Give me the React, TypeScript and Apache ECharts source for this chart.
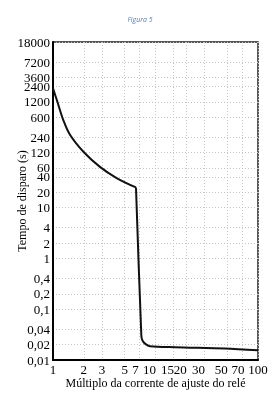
import React, { useEffect, useRef } from "react";
import * as echarts from "echarts";

// Curve: inverse-time part and instantaneous part
const decayX = [1, 1.09, 1.26, 1.47, 1.98, 2.87, 4.18, 6.45];
const decayY = [2200, 1300, 525, 266, 125, 63, 38, 24.8];
const dropX = [6.45, 7.27, 7.43, 7.9, 8.84, 15.5, 47.6, 100];
const dropY = [24.8, 0.031, 0.0245, 0.021, 0.0187, 0.0178, 0.0168, 0.0155];
const xTicks = [1, 2, 3, 5, 7, 10, 15, 20, 30, 50, 70, 100];
const yTicks = [0.01, 0.02, 0.04, 0.1, 0.2, 0.4, 1, 2, 4, 10, 20, 40, 60, 120, 240, 600, 1200, 2400, 3600, 7200, 18000];

const serif = "Liberation Serif";

export default function App() {
  const ref = useRef<HTMLDivElement>(null);
  useEffect(() => {
    if (!ref.current) return;
    const chart = echarts.init(ref.current, undefined, { renderer: "svg" });
    const fmt = (v: number) => String(v).replace(".", ",");
    // the printed figure sets the mid-range x labels slightly left of their grid lines
    const xFmt = (v: number) => {
      const key = v === 7 || v === 70 ? "a" : v >= 10 && v <= 50 ? "b" : "n";
      return `{${key}|${fmt(v)}}`;
    };
    const lineStyle = { color: "#111", width: 2 };
    const labelFont = { fontFamily: serif, fontSize: 13, color: "#000" };
    chart.setOption({
      animation: false,
      title: {
        text: "Figura 5",
        left: "center",
        top: 11,
        textStyle: { fontFamily: "Open Sans", fontStyle: "italic", fontWeight: "normal", fontSize: 7, color: "#5b7fb5" },
      },
      grid: {
        left: 53, right: 22, top: 42, bottom: 40,
        outerBoundsMode: "none", containLabel: false,
        show: true, borderColor: "#222", borderWidth: 1.5, backgroundColor: "transparent",
      },
      xAxis: {
        type: "log",
        min: 1,
        max: 100,
        name: "Múltiplo da corrente de ajuste do relé",
        nameLocation: "middle",
        nameGap: 17,
        nameMoveOverlap: false,
        nameTextStyle: { fontFamily: serif, fontSize: 12, color: "#000" },
        axisLine: { show: true, lineStyle: { color: "#000", width: 2 } },
        axisTick: { show: false, customValues: xTicks },
        axisLabel: {
          customValues: xTicks, ...labelFont, margin: 3, showMinLabel: true, showMaxLabel: true, hideOverlap: false,
          formatter: xFmt,
          rich: {
            a: { ...labelFont, padding: [0, 8, 0, 0] },
            b: { ...labelFont, padding: [0, 12, 0, 0] },
            n: { ...labelFont },
          },
        },
        splitLine: { show: true, lineStyle: { color: "#c4c4c4", type: [1, 2], width: 1 } },
      },
      yAxis: {
        type: "log",
        min: 0.01,
        max: 18000,
        name: "Tempo de disparo (s)",
        nameLocation: "middle",
        nameGap: 25,
        nameMoveOverlap: false,
        nameTextStyle: { fontFamily: serif, fontSize: 12, color: "#000" },
        axisLine: { show: true, lineStyle: { color: "#000", width: 2 } },
        axisTick: { show: false, customValues: yTicks },
        axisLabel: { customValues: yTicks, ...labelFont, lineHeight: 9, margin: 3, showMinLabel: true, showMaxLabel: true, hideOverlap: false, formatter: fmt },
        splitLine: { show: true, lineStyle: { color: "#c4c4c4", type: [1, 2], width: 1 } },
      },
      series: [
        {
          type: "line",
          data: decayX.map((x, i) => [x, decayY[i]]),
          showSymbol: false,
          lineStyle,
          smooth: 0.35,
        },
        {
          type: "line",
          data: dropX.map((x, i) => [x, dropY[i]]),
          showSymbol: false,
          lineStyle,
          smooth: 0.3,
        },
      ],
    });
    return () => chart.dispose();
  }, []);
  return <div ref={ref} style={{ position: "fixed", left: 0, top: 0, width: 280, height: 400 }} />;
}
